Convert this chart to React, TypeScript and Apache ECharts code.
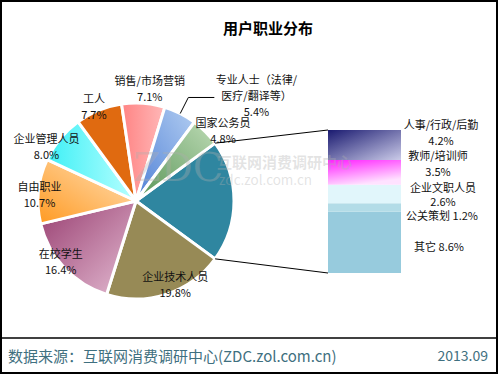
import React, { useEffect, useRef } from "react";
import * as echarts from "echarts";

// ---- data ----
const pieNames = [
  "其他",
  "企业技术人员",
  "在校学生",
  "自由职业",
  "企业管理人员",
  "工人",
  "销售/市场营销",
  "专业人士（法律/医疗/翻译等）",
  "国家公务员",
];
const mainValues = [19.8, 16.4, 10.7, 8.0, 7.7, 7.1, 5.4, 4.8]; // slices after "其他"
const barNames = ["人事/行政/后勤", "教师/培训师", "企业文职人员", "公关策划", "其它"];
const barValues = [4.2, 3.5, 2.6, 1.2, 8.6];
const titleText = "用户职业分布";
const sourceText = "数据来源：互联网消费调研中心(ZDC.zol.com.cn)";
const dateText = "2013.09";

// ---- styles / layout ----
const FONT = '"Noto Sans CJK SC", "Noto Sans", sans-serif';
const PIE_CX = 136;
const PIE_CY = 201;
const PIE_R = 98;
const LABEL_R = 100;
const BAR_LEFT = 328;
const BAR_TOP = 130;
const BAR_W = 73;
const BAR_H = 143;
const LEADER_INDEX = 7;
const LEADER_LEN = 18;
const LEADER_LEN2 = 26;

const lg = (x: number, y: number, x2: number, y2: number, c1: string, c2: string) => ({
  type: "linear",
  x,
  y,
  x2,
  y2,
  colorStops: [
    { offset: 0, color: c1 },
    { offset: 1, color: c2 },
  ],
});

const pieColors: any[] = [
  "#2f86a0",
  "#978a56",
  lg(0, 0, 1, 1, "#983e70", "#e4bcd3"),
  lg(1, 0, 0, 1, "#ffe2bc", "#ff9a22"),
  lg(0, 0.5, 1, 0.5, "#3ef0f6", "#b8ffff"),
  "#e06a10",
  lg(0, 0.5, 1, 0.5, "#ff8484", "#ffb8b8"),
  lg(0, 1, 1, 0, "#4f80d6", "#b2cdf1"),
  lg(0, 1, 1, 0, "#579456", "#bcdab4"),
];
const pieLabelNudge: number[][] = [
  [0, 0],
  [7, -15],
  [0, -10],
  [6, 3],
  [-10, 10],
  [-3, 0],
  [6, -10],
  [74, -14],
  [14, 2],
];
const barColors: any[] = [
  lg(0, 0, 1, 1, "#1a1a70", "#cacae8"),
  lg(0, 0, 0.4, 1, "#ff1eff", "#ffe2ff"),
  "#e1f6fb",
  "#b3dce7",
  "#97cbdd",
];
const barLabelNudge: number[][] = [
  [1, -13],
  [-2, -9],
  [3, 0],
  [2, 7],
  [-1, 4],
];
const barLabelLineHeight = [16, 16, 14.5, 13, 14];

export default function App() {
  const ref = useRef<HTMLDivElement>(null);
  useEffect(() => {
    if (!ref.current) return;
    const chart = echarts.init(ref.current, undefined, { renderer: "svg" });

    const otherTotal = barValues.reduce((a, b) => a + b, 0);
    const pieValues = [otherTotal, ...mainValues];
    const total = pieValues.reduce((a, b) => a + b, 0);
    const halfAngle = (otherTotal / total) * 180;
    const rad = (halfAngle * Math.PI) / 180;
    const topEdge = [PIE_CX + PIE_R * Math.cos(rad), PIE_CY - PIE_R * Math.sin(rad)];
    const botEdge = [PIE_CX + PIE_R * Math.cos(rad), PIE_CY + PIE_R * Math.sin(rad)];

    // leader line for the label that sits outside the pie
    const before = pieValues.slice(0, LEADER_INDEX).reduce((a, b) => a + b, 0);
    const midDeg = halfAngle - ((before + pieValues[LEADER_INDEX] / 2) / total) * 360;
    const mr = (midDeg * Math.PI) / 180;
    const dx = Math.cos(mr);
    const dy = -Math.sin(mr);
    const p1 = [PIE_CX + PIE_R * dx, PIE_CY + PIE_R * dy];
    const p2 = [PIE_CX + (PIE_R + LEADER_LEN) * dx, PIE_CY + (PIE_R + LEADER_LEN) * dy];
    const p3 = [p2[0] + (dx < 0 ? -LEADER_LEN2 : LEADER_LEN2), p2[1]];

    const labelStyle = {
      color: "#111",
      fontSize: 11,
      lineHeight: 16,
      fontFamily: FONT,
    };

    const mainData = pieNames.map((n, i) => ({
      name: n,
      value: pieValues[i],
      itemStyle: { color: pieColors[i] },
    }));

    const ghostData = pieNames.map((n, i) => ({
      name: n,
      value: pieValues[i],
      label: { show: i !== 0, offset: pieLabelNudge[i] },
    }));

    const barSeries = barNames
      .map((n, i) => ({
        type: "bar",
        name: n,
        stack: "o",
        barWidth: "100%",
        silent: true,
        data: [barValues[i]],
        itemStyle: { color: barColors[i] },
        label: {
          show: true,
          position: [BAR_W + 39, "50%"],
          align: "center",
          verticalAlign: "middle",
          offset: barLabelNudge[i],
          formatter: i >= 3 ? `${n} ${barValues[i].toFixed(1)}%` : `${n}\n${barValues[i].toFixed(1)}%`,
          ...labelStyle,
          lineHeight: barLabelLineHeight[i],
        },
      }))
      .reverse();

    const wm = "rgba(175,175,175,0.35)";

    const option: any = {
      animation: false,
      backgroundColor: "#fff",
      textStyle: { fontFamily: FONT },
      grid: { left: BAR_LEFT, top: BAR_TOP, width: BAR_W, height: BAR_H, containLabel: false },
      xAxis: { type: "category", data: ["其他"], show: false },
      yAxis: { type: "value", min: 0, max: otherTotal, show: false },
      series: [
        {
          type: "pie",
          center: [PIE_CX, PIE_CY],
          radius: PIE_R,
          startAngle: halfAngle,
          clockwise: true,
          avoidLabelOverlap: false,
          silent: true,
          itemStyle: { borderColor: "#fff", borderWidth: 3 },
          label: { show: false },
          labelLine: { show: false },
          data: mainData,
          z: 2,
        },
        {
          type: "pie",
          center: [PIE_CX, PIE_CY],
          radius: LABEL_R * 2,
          startAngle: halfAngle,
          clockwise: true,
          avoidLabelOverlap: false,
          silent: true,
          labelLayout: { hideOverlap: false },
          itemStyle: { color: "rgba(0,0,0,0)", borderWidth: 0 },
          label: {
            show: true,
            position: "inside",
            formatter: (p: any) =>
              p.dataIndex === LEADER_INDEX
                ? `${p.name.slice(0, 8)}\n${p.name.slice(8)}\n${p.value.toFixed(1)}%`
                : `${p.name}\n${p.value.toFixed(1)}%`,
            ...labelStyle,
          },
          labelLine: { show: false },
          data: ghostData,
          z: 3,
        },
        ...barSeries,
      ],
      graphic: [
        {
          type: "polyline",
          silent: true,
          shape: { points: [p1, p2, p3] },
          style: { stroke: "#000", lineWidth: 1, fill: "none" },
          z: 5,
        },
        {
          type: "line",
          silent: true,
          shape: { x1: topEdge[0], y1: topEdge[1], x2: BAR_LEFT, y2: BAR_TOP },
          style: { stroke: "#000", lineWidth: 1 },
          z: 5,
        },
        {
          type: "line",
          silent: true,
          shape: { x1: botEdge[0], y1: botEdge[1], x2: BAR_LEFT, y2: BAR_TOP + BAR_H },
          style: { stroke: "#000", lineWidth: 1 },
          z: 5,
        },
        {
          type: "text",
          x: 268,
          y: 27,
          style: {
            text: titleText,
            fontSize: 15,
            fontWeight: "bold",
            fontFamily: FONT,
            fill: "#000",
            align: "center",
            verticalAlign: "middle",
          },
        },
        {
          type: "line",
          shape: { x1: 0, y1: 338, x2: 497, y2: 338 },
          style: { stroke: "#000", lineWidth: 1.5 },
        },
        {
          type: "text",
          x: 8,
          y: 355,
          style: {
            text: sourceText,
            fontSize: 15,
            fontFamily: FONT,
            fill: "#3f7080",
            align: "left",
            verticalAlign: "middle",
          },
        },
        {
          type: "text",
          x: 488,
          y: 355,
          style: {
            text: dateText,
            fontSize: 14,
            fontFamily: FONT,
            fill: "#3f7080",
            align: "right",
            verticalAlign: "middle",
          },
        },
        {
          type: "rect",
          shape: { x: 1, y: 1, width: 496, height: 372 },
          style: { fill: "none", stroke: "#000", lineWidth: 2 },
          z: 100,
        },
        {
          type: "text",
          x: 133,
          y: 167,
          z: 100,
          silent: true,
          style: {
            text: "ZDC",
            fontSize: 40,
            fontFamily: '"DejaVu Serif", serif',
            fill: wm,
            align: "left",
            verticalAlign: "middle",
          },
        },
        {
          type: "text",
          x: 217,
          y: 161,
          z: 100,
          silent: true,
          style: {
            text: "互联网消费调研中心",
            fontSize: 15,
            fontWeight: "bold",
            fontFamily: FONT,
            fill: wm,
            align: "left",
            verticalAlign: "middle",
          },
        },
        {
          type: "text",
          x: 219,
          y: 179,
          z: 100,
          silent: true,
          style: {
            text: "zdc.zol.com.cn",
            fontSize: 13.5,
            fontFamily: FONT,
            fill: wm,
            align: "left",
            verticalAlign: "middle",
          },
        },
      ],
    };
    chart.setOption(option);
    return () => chart.dispose();
  }, []);
  return (
    <div
      ref={ref}
      style={{ position: "absolute", left: 0, top: 0, width: 500, height: 375 }}
    />
  );
}
